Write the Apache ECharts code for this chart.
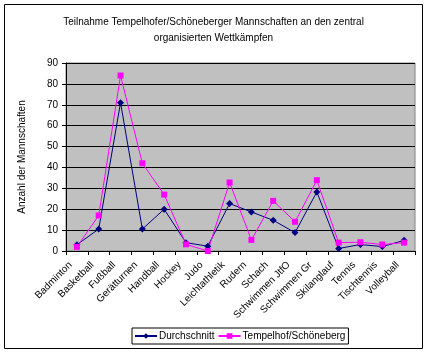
<!DOCTYPE html>
<html>
<head>
<meta charset="utf-8">
<script src="https://cdn.jsdelivr.net/npm/echarts@6/dist/echarts.min.js"></script>
<style>
  html, body { margin: 0; padding: 0; background: #fff; }
  #chart { width: 427px; height: 352px; }
</style>
</head>
<body>
<div id="chart"></div>
<script>
var categories = ["Badminton", "Basketball", "Fußball", "Gerätturnen", "Handball", "Hockey", "Judo",
  "Leichtathletik", "Rudern", "Schach", "Schwimmen JtfO", "Schwimmen Gr", "Skilanglauf",
  "Tennis", "Tischtennis", "Volleyball"];
var durchschnitt = [3, 10.5, 71, 10.5, 20, 4, 2.3, 22.7, 18.7, 14.7, 8.8, 28.3, 1.2, 3.1, 2.1, 5.1];
var tempelhof = [2, 17, 84, 42, 27, 3.2, 0, 32.8, 5.3, 24, 14, 33.9, 4, 4.2, 3.1, 4];
var yTicks = { min: 0, max: 90, interval: 10 };

var font = "Liberation Sans, Arial, sans-serif";
var chart = echarts.init(document.getElementById("chart"));

chart.setOption({
  animation: false,
  textStyle: { fontFamily: font, color: "#000" },
  title: {
    text: "Teilnahme Tempelhofer/Schöneberger Mannschaften an den zentral\norganisierten Wettkämpfen",
    left: "center",
    top: 9,
    textStyle: { fontSize: 10, fontWeight: "normal", color: "#000", lineHeight: 16, fontFamily: font },
  },
  graphic: [
    {
      type: "rect",
      shape: { x: 4.5, y: 4.5, width: 418, height: 344 },
      style: { fill: "none", stroke: "#000", lineWidth: 1 },
      silent: true,
      z: -1,
    },
  ],
  legend: {
    top: 328,
    left: 132,
    padding: [3, 3, 3, 2],
    itemGap: 3,
    itemWidth: 22,
    itemHeight: 7,
    borderColor: "#000",
    borderWidth: 1,
    textStyle: { fontSize: 10, fontFamily: font, color: "#000", padding: [0, 0, 0, -3] },
    data: ["Durchschnitt", "Tempelhof/Schöneberg"],
  },
  grid: {
    left: 66,
    top: 63,
    right: 12,
    bottom: 101,
    show: true,
    backgroundColor: "#C0C0C0",
    borderColor: "#808080",
    borderWidth: 1,
  },
  xAxis: {
    type: "category",
    data: categories,
    boundaryGap: true,
    axisLine: { lineStyle: { color: "#000", width: 1 } },
    axisTick: { show: true, length: 4, lineStyle: { color: "#000" } },
    axisLabel: { interval: 0, rotate: 45, fontSize: 10, color: "#000", margin: 6, padding: [0, 9, 0, 0], fontFamily: font },
  },
  yAxis: {
    type: "value",
    min: yTicks.min,
    max: yTicks.max,
    interval: yTicks.interval,
    name: "Anzahl der Mannschaften",
    nameLocation: "middle",
    nameRotate: 90,
    nameGap: 39,
    nameTextStyle: { fontSize: 10, color: "#000", fontFamily: font },
    axisLine: { show: true, lineStyle: { color: "#000", width: 1 } },
    axisTick: { show: true, length: 4, lineStyle: { color: "#000" } },
    axisLabel: { fontSize: 10, color: "#000", margin: 8, fontFamily: font },
    splitLine: { show: true, lineStyle: { color: "#000", width: 1 } },
  },
  series: [
    {
      name: "Durchschnitt",
      type: "line",
      data: durchschnitt,
      symbol: "diamond",
      symbolSize: 7,
      color: "#000080",
      lineStyle: { width: 1, color: "#000080" },
      itemStyle: { color: "#000080" },
    },
    {
      name: "Tempelhof/Schöneberg",
      type: "line",
      data: tempelhof,
      symbol: "rect",
      symbolSize: 6,
      color: "#FF00FF",
      lineStyle: { width: 1, color: "#FF00FF" },
      itemStyle: { color: "#FF00FF" },
    },
  ],
});
</script>
</body>
</html>
